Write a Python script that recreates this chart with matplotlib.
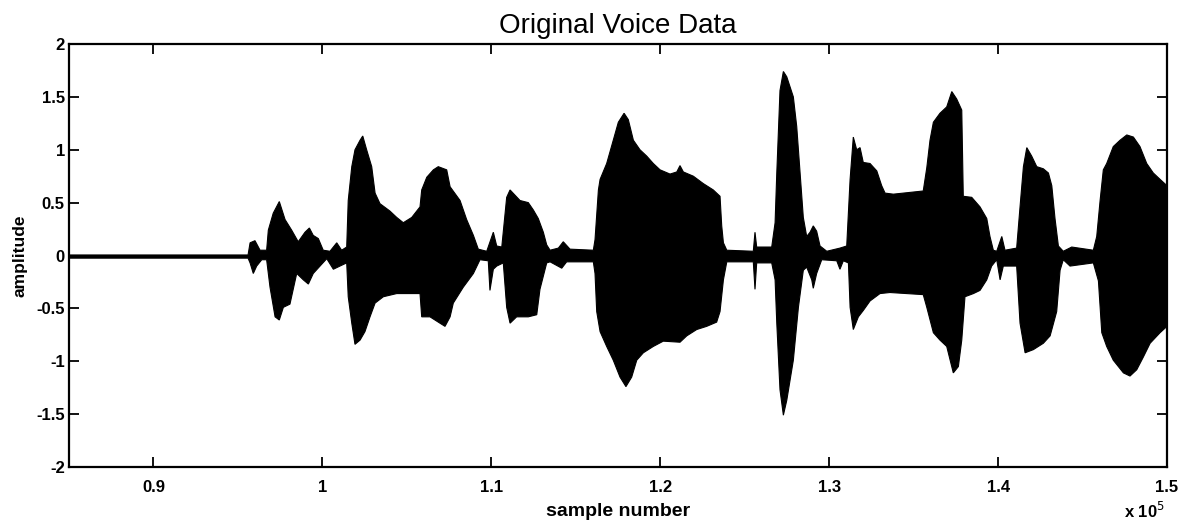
import numpy as np
import matplotlib
matplotlib.use("Agg")
import matplotlib.pyplot as plt

plt.rcParams['font.family'] = ['Liberation Sans', 'DejaVu Sans']

# Upper envelope of the waveform (sample number, amplitude)
upper_x = [85000, 95600, 95720, 96010, 96310, 96700, 96800, 97090, 97450, 97790,
           98180, 98570, 98970, 99230, 99460, 99760, 100050, 100450, 100850, 101140,
           101440, 101530, 101740, 101930, 102230, 102390, 102620, 102920, 103120, 103410,
           104000, 104400, 104790, 105290, 105780, 105880, 106180, 106570, 106860, 107360,
           107560, 108150, 108540, 108940, 109230, 109730, 110120, 110320, 110620, 110910,
           111110, 111700, 112190, 112490, 112780, 113080, 113280, 113480, 113970, 114260,
           114660, 116040, 116140, 116340, 116440, 116830, 117220, 117520, 117860, 118110,
           118410, 118800, 119200, 119590, 119990, 120580, 120980, 121170, 121370, 121960,
           122550, 123140, 123540, 123640, 123740, 123940, 125510, 125610, 125710, 126600,
           126800, 126900, 127090, 127290, 127490, 127880, 128080, 128280, 128470, 128670,
           128870, 129060, 129260, 129460, 129860, 130640, 131040, 131240, 131430, 131630,
           131830, 132020, 132420, 132820, 133110, 133310, 133800, 134390, 134980, 135570,
           135780, 135970, 136170, 136560, 136960, 137260, 137550, 137850, 137940, 138440,
           138930, 139330, 139520, 139720, 139920, 140220, 140410, 141100, 141300, 141500,
           141700, 141990, 142290, 142680, 142980, 143180, 143370, 143570, 143860, 144360,
           145640, 145840, 146040, 146230, 146430, 146820, 147220, 147620, 148010, 148400,
           148800, 149190, 149590, 150000]
upper_y = [0.005, 0.005, 0.12, 0.14, 0.05, 0.05, 0.24, 0.40, 0.51, 0.34,
           0.24, 0.13, 0.22, 0.26, 0.19, 0.16, 0.05, 0.04, 0.12, 0.05,
           0.08, 0.52, 0.84, 1.00, 1.09, 1.13, 1.00, 0.84, 0.59, 0.49,
           0.42, 0.36, 0.31, 0.36, 0.46, 0.62, 0.74, 0.81, 0.84, 0.81,
           0.65, 0.52, 0.34, 0.19, 0.06, 0.04, 0.22, 0.09, 0.08, 0.55,
           0.62, 0.52, 0.50, 0.43, 0.35, 0.22, 0.10, 0.05, 0.07, 0.13,
           0.06, 0.05, 0.15, 0.62, 0.72, 0.87, 1.09, 1.26, 1.345, 1.285,
           1.09, 1.00, 0.94, 0.87, 0.81, 0.77, 0.79, 0.85, 0.79, 0.75,
           0.68, 0.62, 0.56, 0.28, 0.12, 0.05, 0.04, 0.22, 0.08, 0.08,
           0.31, 0.78, 1.56, 1.74, 1.69, 1.50, 1.22, 0.78, 0.36, 0.18,
           0.22, 0.28, 0.23, 0.09, 0.04, 0.07, 0.09, 0.72, 1.12, 1.00,
           1.02, 0.88, 0.87, 0.80, 0.66, 0.59, 0.58, 0.59, 0.60, 0.61,
           0.83, 1.09, 1.26, 1.345, 1.405, 1.55, 1.48, 1.375, 0.56, 0.55,
           0.46, 0.35, 0.18, 0.05, 0.04, 0.18, 0.05, 0.07, 0.46, 0.84,
           1.02, 0.94, 0.84, 0.82, 0.78, 0.66, 0.35, 0.09, 0.04, 0.08,
           0.05, 0.18, 0.52, 0.81, 0.87, 1.03, 1.09, 1.14, 1.12, 1.03,
           0.87, 0.78, 0.72, 0.66]

# Lower envelope of the waveform (sample number, amplitude)
lower_x = [85000, 95600, 95720, 95910, 96110, 96410, 96700, 96900, 97200, 97450,
           97690, 98080, 98480, 98870, 99170, 99460, 99860, 100260, 100650, 101040,
           101440, 101530, 101740, 101930, 102230, 102520, 102820, 103120, 103610, 104400,
           105780, 105880, 106370, 106960, 107260, 107560, 107750, 108340, 108940, 109330,
           109820, 109920, 110120, 110320, 110710, 110910, 111110, 111500, 112190, 112690,
           112880, 113280, 113480, 114170, 114460, 116040, 116140, 116240, 116440, 116830,
           117220, 117620, 117970, 118310, 118610, 119000, 119590, 120180, 121170, 121570,
           122160, 122750, 123340, 123540, 123740, 123940, 125510, 125610, 125710, 126600,
           126800, 126900, 127090, 127290, 127490, 127880, 128180, 128470, 128670, 128970,
           129060, 129260, 129560, 130450, 130640, 130840, 131140, 131240, 131430, 131730,
           132020, 132420, 133010, 133600, 135570, 135780, 136170, 136560, 136960, 137350,
           137650, 137850, 138040, 138540, 138930, 139330, 139620, 139920, 140120, 140310,
           141100, 141300, 141600, 142090, 142680, 143080, 143470, 143670, 143860, 144260,
           145640, 145940, 146140, 146430, 146820, 147420, 147810, 148210, 148600, 149000,
           149590, 150000]
lower_y = [-0.025, -0.025, -0.07, -0.17, -0.10, -0.04, -0.04, -0.30, -0.58, -0.61,
           -0.49, -0.46, -0.17, -0.23, -0.27, -0.17, -0.10, -0.03, -0.13, -0.10,
           -0.07, -0.39, -0.64, -0.84, -0.80, -0.72, -0.58, -0.45, -0.39, -0.36,
           -0.36, -0.58, -0.58, -0.64, -0.67, -0.58, -0.45, -0.30, -0.17, -0.04,
           -0.05, -0.33, -0.13, -0.10, -0.07, -0.49, -0.64, -0.58, -0.58, -0.56,
           -0.32, -0.07, -0.06, -0.12, -0.06, -0.06, -0.17, -0.53, -0.72, -0.86,
           -0.99, -1.15, -1.24, -1.15, -0.99, -0.92, -0.86, -0.81, -0.82, -0.76,
           -0.70, -0.67, -0.63, -0.53, -0.23, -0.06, -0.06, -0.32, -0.07, -0.07,
           -0.23, -0.64, -1.27, -1.51, -1.37, -0.99, -0.49, -0.14, -0.11, -0.23,
           -0.31, -0.17, -0.04, -0.05, -0.13, -0.05, -0.07, -0.49, -0.70, -0.58,
           -0.52, -0.43, -0.36, -0.35, -0.37, -0.49, -0.73, -0.80, -0.86, -1.11,
           -1.05, -0.80, -0.39, -0.36, -0.33, -0.23, -0.10, -0.04, -0.23, -0.10,
           -0.10, -0.64, -0.92, -0.89, -0.83, -0.76, -0.53, -0.14, -0.04, -0.10,
           -0.07, -0.24, -0.73, -0.86, -0.99, -1.11, -1.14, -1.08, -0.96, -0.83,
           -0.73, -0.67]

xticks = [90000, 100000, 110000, 120000, 130000, 140000, 150000]
xtick_labels = ['0.9', '1', '1.1', '1.2', '1.3', '1.4', '1.5']
yticks = [-2, -1.5, -1, -0.5, 0, 0.5, 1, 1.5, 2]
ytick_labels = ['-2', '-1.5', '-1', '-0.5', '0', '0.5', '1', '1.5', '2']

fig = plt.figure(figsize=(11.9, 5.3), dpi=100)
ax = fig.add_axes([69 / 1190, 1 - 467 / 530, 1098 / 1190, 423 / 530])

poly_x = np.concatenate([upper_x, lower_x[::-1]])
poly_y = np.concatenate([upper_y, lower_y[::-1]])
ax.fill(poly_x, poly_y, facecolor='black', edgecolor='black', linewidth=0.8)

ax.set_xlim(85000, 150000)
ax.set_ylim(-2, 2)
ax.set_xticks(xticks)
ax.set_xticklabels(xtick_labels)
ax.set_yticks(yticks)
ax.set_yticklabels(ytick_labels)
ax.tick_params(direction='in', length=7, width=1.3, top=True, right=True,
               labelsize=12)
ax.tick_params(axis='x', pad=9)
ax.tick_params(axis='y', pad=3)
for lab in ax.get_xticklabels() + ax.get_yticklabels():
    lab.set_fontweight('bold')
for s in ax.spines.values():
    s.set_linewidth(1.6)

ax.set_title('Original Voice Data', fontsize=20, pad=8)
ax.set_xlabel('sample number', fontsize=14, fontweight='bold', labelpad=6)
ax.set_ylabel('amplitude', fontsize=12.5, fontweight='bold', labelpad=6)
fig.text(1124 / 1190, 1 - 518 / 530, r'x 10$^5$', fontsize=12, fontweight='bold')

fig.savefig('out.png', dpi=100)
